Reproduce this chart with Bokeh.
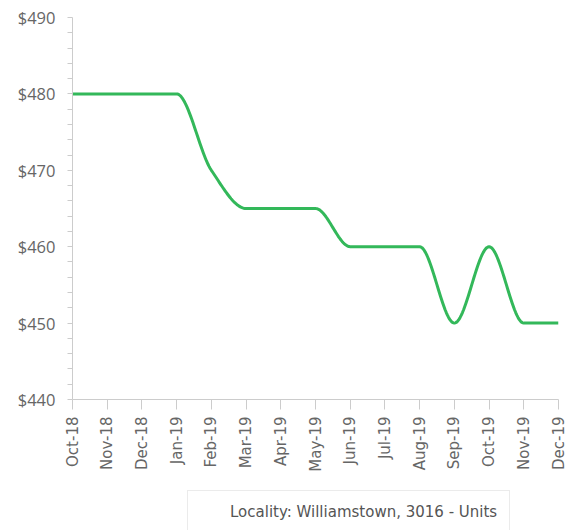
import numpy as np
from bokeh.plotting import figure
from bokeh.layouts import column
from bokeh.models import FixedTicker, Legend, LegendItem, PrintfTickFormatter, ColumnDataSource
from bokeh.embed import file_html
from bokeh.resources import INLINE

months = ["Oct-18", "Nov-18", "Dec-18", "Jan-19", "Feb-19", "Mar-19", "Apr-19",
          "May-19", "Jun-19", "Jul-19", "Aug-19", "Sep-19", "Oct-19", "Nov-19", "Dec-19"]
rents = [480, 480, 480, 480, 470, 465, 465, 465, 460, 460, 460, 450, 460, 450, 450]
y_ticks = [440, 450, 460, 470, 480, 490]
series_name = "Locality: Williamstown, 3016 - Units"
series_color = "#33b85a"


def monotone_curve(xs, ys, n=30):
    """Render-time monotone cubic (Fritsch-Carlson) smoothing through the data points."""
    xs = np.asarray(xs, float)
    ys = np.asarray(ys, float)
    h = np.diff(xs)
    d = np.diff(ys) / h
    m = np.zeros(len(xs))
    m[0], m[-1] = d[0], d[-1]
    for i in range(1, len(xs) - 1):
        if d[i - 1] * d[i] <= 0:
            m[i] = 0.0
        else:
            w1 = 2 * h[i] + h[i - 1]
            w2 = h[i] + 2 * h[i - 1]
            m[i] = (w1 + w2) / (w1 / d[i - 1] + w2 / d[i])
    out_x, out_y = [], []
    for i in range(len(xs) - 1):
        t = np.linspace(0, 1, n, endpoint=(i == len(xs) - 2))
        h00 = 2 * t**3 - 3 * t**2 + 1
        h10 = t**3 - 2 * t**2 + t
        h01 = -2 * t**3 + 3 * t**2
        h11 = t**3 - t**2
        out_x.extend(xs[i] + t * h[i])
        out_y.extend(h00 * ys[i] + h10 * h[i] * m[i] + h01 * ys[i + 1] + h11 * h[i] * m[i + 1])
    return out_x, out_y


x_idx = list(range(len(months)))
cx, cy = monotone_curve(x_idx, rents)
src = ColumnDataSource(dict(x=cx, y=cy))

chart = figure(width=568, height=474, x_range=(0, len(months) - 1), y_range=(440, 490),
               output_backend="svg", toolbar_location=None,
               min_border_left=72, min_border_top=17, min_border_right=10, min_border_bottom=69)
chart.outline_line_color = None
chart.xgrid.visible = False
chart.ygrid.visible = False

chart.line("x", "y", source=src, line_color=series_color, line_width=3, line_join="round")

axis_color = "#cccccc"
label_color = "#666666"

chart.xaxis.ticker = FixedTicker(ticks=x_idx)
chart.xaxis.major_label_overrides = {i: m for i, m in enumerate(months)}
chart.xaxis.major_label_orientation = np.pi / 2
chart.xaxis.major_label_text_font = "DejaVu Sans"
chart.xaxis.major_label_text_font_size = "15px"
chart.xaxis.major_label_text_color = label_color
chart.xaxis.axis_line_color = axis_color
chart.xaxis.major_tick_line_color = axis_color
chart.xaxis.major_tick_in = 0
chart.xaxis.major_tick_out = 10
chart.xaxis.minor_tick_line_color = None
chart.xaxis.major_label_standoff = 7

minor = [v for v in range(440, 491, 2) if v % 10 != 0]
chart.yaxis.ticker = FixedTicker(ticks=y_ticks, minor_ticks=minor)
chart.yaxis.formatter = PrintfTickFormatter(format="$%d")
chart.yaxis.major_label_text_font = "Open Sans"
chart.yaxis.major_label_text_font_size = "16.5px"
chart.yaxis.major_label_text_color = label_color
chart.yaxis.axis_line_color = axis_color
chart.yaxis.major_tick_line_color = axis_color
chart.yaxis.minor_tick_line_color = axis_color
chart.yaxis.major_tick_in = 0
chart.yaxis.major_tick_out = 5
chart.yaxis.minor_tick_in = 0
chart.yaxis.minor_tick_out = 5
chart.yaxis.major_label_standoff = 12

# separate strip below the chart that only carries the legend
leg_fig = figure(width=568, height=56, x_range=(0, 1), y_range=(0, 1),
                 x_axis_type=None, y_axis_type=None,
                 output_backend="svg", toolbar_location=None,
                 min_border_left=0, min_border_right=0, min_border_top=0, min_border_bottom=0)
leg_fig.outline_line_color = None
leg_fig.xgrid.visible = False
leg_fig.ygrid.visible = False
leg_line = leg_fig.line(x=[], y=[], line_color=series_color, line_width=3)

legend = Legend(items=[LegendItem(label=series_name, renderers=[leg_line])],
                location=(115, -4), orientation="horizontal",
                border_line_color="#d8d8d8", border_line_width=1,
                background_fill_color="white", background_fill_alpha=1,
                label_text_font="DejaVu Sans", label_text_font_size="15px",
                label_text_color="#555555", glyph_width=23, glyph_height=14,
                label_height=14, padding=12, margin=0, label_standoff=7)
leg_fig.add_layout(legend, "center")

p = column(chart, leg_fig, spacing=0)

open("out.html", "w").write(file_html(p, INLINE))
